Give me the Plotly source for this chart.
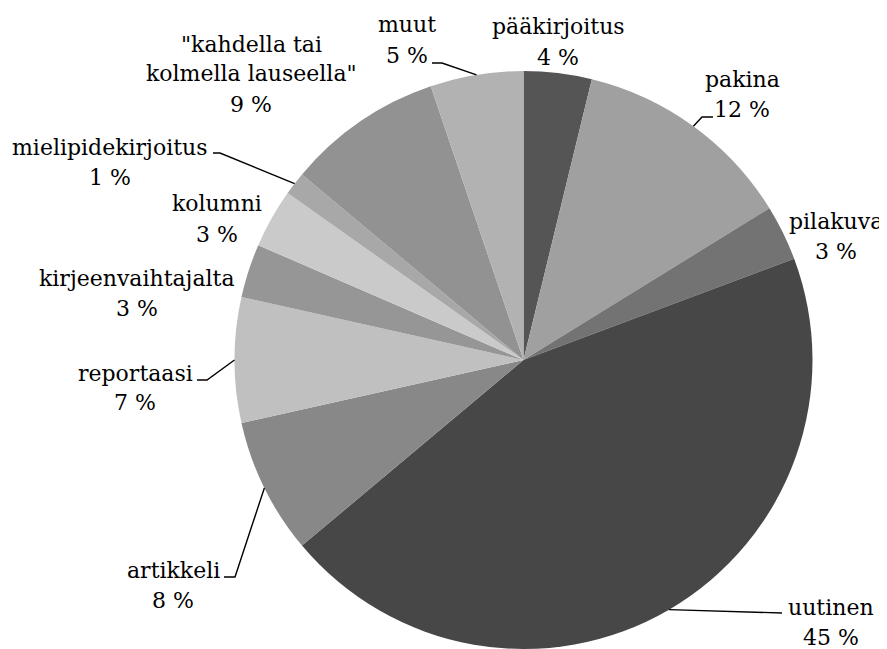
import math
import plotly.graph_objects as go

# ---- data ----
categories = ["pääkirjoitus", "pakina", "pilakuva", "uutinen", "artikkeli",
              "reportaasi", "kirjeenvaihtajalta", "kolumni", "mielipidekirjoitus",
              "\"kahdella tai kolmella lauseella\"", "muut"]
display_lines = [["pääkirjoitus"], ["pakina"], ["pilakuva"], ["uutinen"], ["artikkeli"],
                 ["reportaasi"], ["kirjeenvaihtajalta"], ["kolumni"], ["mielipidekirjoitus"],
                 ["\"kahdella tai", "kolmella lauseella\""], ["muut"]]
values = [3.8, 12.4, 3.1, 44.6, 7.6, 7.0, 3.0, 3.3, 1.3, 8.7, 5.2]

# ---- style ----
colors = ["#555555", "#a0a0a0", "#737373", "#474747", "#888888", "#c0c0c0",
          "#969696", "#cacaca", "#a8a8a8", "#929292", "#b2b2b2"]

OFF = 8                       # page body margin of the html page
W, H = 887 - OFF, 649 - OFF
ML, MR, MT, MB = 226, 74, 63, 0
PW, PH = W - ML - MR, H - MT - MB
R = min(PW, PH) / 2.0
CX, CY = ML + PW / 2.0 + OFF, MT + PH / 2.0 + OFF   # screen pixels

# label block centres (screen pixels) – layout styling
label_pos = {
    "pääkirjoitus": (558, 42),
    "pakina": (742, 94),
    "pilakuva": (836, 236),
    "uutinen": (831, 622),
    "artikkeli": (173, 585),
    "reportaasi": (135, 388),
    "kirjeenvaihtajalta": (137, 293),
    "kolumni": (217, 219),
    "mielipidekirjoitus": (110, 162),
    "\"kahdella tai kolmella lauseella\"": (251, 74),
    "muut": (407, 40),
}
# leader line waypoints after the slice edge point (screen pixels) – styling
leaders = {
    "muut": [(442, 63), (432, 63)],
    "pakina": [(702, 117), (713, 117)],
    "uutinen": [(782, 613)],
    "artikkeli": [(235, 577), (224, 577)],
    "reportaasi": [(207, 380), (197, 380)],
    "mielipidekirjoitus": [(220, 153), (213, 153)],
}

FONT = "DejaVu Serif"
FSIZE = 22
LS = 30


def px(x, y):
    return (x - OFF - ML) / PW, (H - MB - (y - OFF)) / PH


fig = go.Figure(go.Pie(
    labels=categories, values=values, sort=False, direction="clockwise",
    rotation=0, textinfo="none", showlegend=False,
    marker=dict(colors=colors, line=dict(width=0)),
))

total = sum(values)
annotations = []
shapes = []
cum = 0.0
for name, lines, v in zip(categories, display_lines, values):
    mid = (cum + v / 2) / total
    cum += v
    theta = 2 * math.pi * mid
    ex, ey = CX + R * math.sin(theta), CY - R * math.cos(theta)
    pct = round(v / total * 100)
    all_lines = lines + [f"{pct} %"]
    n = len(all_lines)
    lx, ly = label_pos[name]
    for i, t in enumerate(all_lines):
        yy = ly + (i - (n - 1) / 2) * LS
        a, b = px(lx, yy)
        annotations.append(dict(
            x=a, y=b, xref="paper", yref="paper", showarrow=False,
            text=t, xanchor="center", yanchor="middle",
            font=dict(family=FONT, size=FSIZE, color="#000000"),
        ))
    if name in leaders:
        pts = [(ex, ey)] + leaders[name]
        path = ""
        for i, (x, y) in enumerate(pts):
            a, b = px(x, y)
            path += ("M" if i == 0 else " L") + f"{a:.5f},{b:.5f}"
        shapes.append(dict(type="path", path=path, xref="paper", yref="paper",
                           line=dict(color="#000000", width=1.4)))

fig.update_layout(
    width=W, height=H,
    margin=dict(l=ML, r=MR, t=MT, b=MB, pad=0),
    paper_bgcolor="#ffffff", plot_bgcolor="#ffffff",
    annotations=annotations, shapes=shapes,
)

fig.write_html("out.html")
